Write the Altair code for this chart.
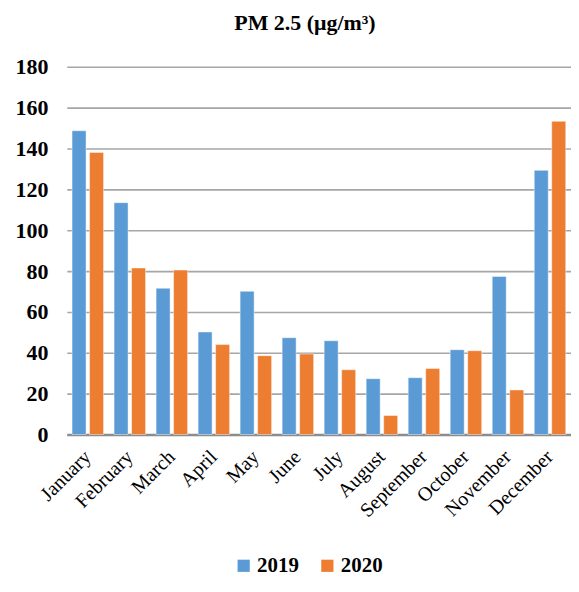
import altair as alt
import pandas as pd

months = ["January", "February", "March", "April", "May", "June",
          "July", "August", "September", "October", "November", "December"]
pm2019 = [148.7, 113.5, 71.6, 50.2, 70.1, 47.4, 45.9, 27.3, 27.8, 41.5, 77.4, 129.3]
pm2020 = [138.1, 81.5, 80.5, 44.0, 38.6, 39.4, 31.7, 9.3, 32.3, 41.0, 21.8, 153.3]
years = ["2019", "2020"]
colors = ["#5B9BD5", "#ED7D31"]
y_ticks = [0, 20, 40, 60, 80, 100, 120, 140, 160, 180]

rows = []
for i, m in enumerate(months):
    rows.append({"month": m, "year": years[0], "value": pm2019[i]})
    rows.append({"month": m, "year": years[1], "value": pm2020[i]})
df = pd.DataFrame(rows)

FONT = "Liberation Serif"

chart = alt.Chart(df).mark_bar(stroke="#FFFFFF", strokeOpacity=0.45, strokeWidth=1).encode(
    x=alt.X("month:N", sort=months,
            scale=alt.Scale(paddingInner=0.25, paddingOuter=0.125),
            axis=alt.Axis(title=None, labelAngle=-45, labelAlign="right",
                          labelBaseline="middle", labelPadding=19,
                          labelFont=FONT, labelFontSize=20, labelColor="#000000",
                          ticks=False, domainColor="#8C8C8C", domainWidth=2.5,
                          labelOverlap=False)),
    xOffset=alt.XOffset("year:N", sort=years, scale=alt.Scale(paddingInner=0.2)),
    y=alt.Y("value:Q", scale=alt.Scale(domain=[0, 180], nice=False),
            axis=alt.Axis(title=None, values=y_ticks, ticks=False, domain=False,
                          labelFont=FONT, labelFontSize=22, labelFontWeight="bold",
                          labelColor="#000000", labelPadding=19,
                          gridColor="#A6A6A6", gridWidth=1.6)),
    color=alt.Color("year:N", scale=alt.Scale(domain=years, range=colors),
                    legend=alt.Legend(title=None, orient="none", legendX=167, legendY=490,
                                      direction="horizontal", symbolType="square",
                                      symbolSize=150, symbolStrokeWidth=0,
                                      labelFont=FONT, labelFontSize=21, labelFontWeight="bold",
                                      labelColor="#000000", labelOffset=3, columnPadding=18)),
).properties(
    width=506,
    height=369,
    title=alt.TitleParams("PM 2.5 (μg/m³)", font=FONT, fontSize=22, fontWeight="bold",
                          color="#000000", dx=-14, offset=21),
    autosize=alt.AutoSizeParams(type="none"),
    padding={"left": 59, "top": 58, "right": 0, "bottom": 144},
).configure_view(stroke=None)

chart.save("out.html", embed_options={"renderer": "svg", "actions": False})
